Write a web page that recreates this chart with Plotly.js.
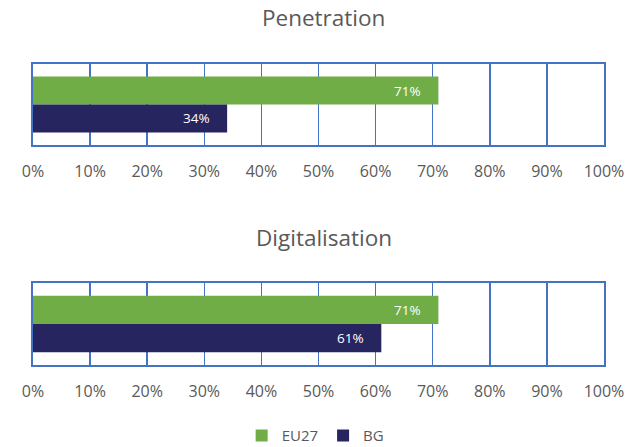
<!DOCTYPE html>
<html>
<head>
<meta charset="utf-8">
<script src="https://cdn.plot.ly/plotly-3.0.1.min.js"></script>
<style>
  html, body { margin: 0; padding: 0; background: #fff; }
  #chart { width: 643px; height: 447px; }
</style>
</head>
<body>
<div id="chart"></div>
<script>
// Shares per indicator, as fractions (0..1)
const panels = ['Penetration', 'Digitalisation'];
const seriesNames = ['EU27', 'BG'];
const eu27 = [0.71, 0.71];
const bg = [0.34, 0.61];
const tickVals = [0, 0.1, 0.2, 0.3, 0.4, 0.5, 0.6, 0.7, 0.8, 0.9, 1.0];
const tickText = ['0%', '10%', '20%', '30%', '40%', '50%', '60%', '70%', '80%', '90%', '100%'];

const colors = ['#70AD47', '#262560'];
const lineBlue = '#4472C4';
const textGrey = '#595959';
const fontFam = '"Open Sans", "Noto Sans", sans-serif';

const seriesVals = [eu27, bg];
const traces = [];
const annotations = [];
const bargap = 0.31;

panels.forEach((panel, p) => {
  const xa = p === 0 ? 'x' : 'x2';
  const ya = p === 0 ? 'y' : 'y2';
  seriesNames.forEach((name, s) => {
    const v = seriesVals[s][p];
    traces.push({
      type: 'bar',
      orientation: 'h',
      name: name,
      legendgroup: name,
      showlegend: p === 0,
      x: [v],
      y: [panel],
      xaxis: xa,
      yaxis: ya,
      marker: { color: colors[s] },
      hoverinfo: 'skip'
    });
    // value label inside the bar end, pulled a little to the left
    const half = (1 - bargap) / 4;
    annotations.push({
      text: Math.round(v * 100) + '%',
      xref: xa, yref: ya,
      x: v, y: s === 0 ? -half : half,
      xanchor: 'right', yanchor: 'middle',
      xshift: -15,
      showarrow: false,
      font: { size: 13.5, color: '#ffffff', family: fontFam }
    });
  });
});

function xAxis(anchor) {
  return {
    anchor: anchor,
    domain: [0, 1],
    range: [0, 1],
    tickvals: tickVals,
    ticktext: tickText,
    showgrid: true,
    gridcolor: lineBlue,
    gridwidth: 1.5,
    showline: true,
    mirror: true,
    linecolor: lineBlue,
    linewidth: 2,
    zeroline: false,
    ticks: '',
    ticklabelstandoff: 11,
    tickfont: { size: 16, color: textGrey, family: fontFam },
    fixedrange: true
  };
}
function yAxis(anchor, domain) {
  return {
    anchor: anchor,
    domain: domain,
    type: 'category',
    autorange: 'reversed',
    showticklabels: false,
    showgrid: false,
    showline: true,
    mirror: true,
    linecolor: lineBlue,
    linewidth: 2,
    ticks: '',
    fixedrange: true
  };
}

// Panel titles
const titleY = [0.96, 0.468];
panels.forEach((panel, p) => {
  annotations.push({
    text: panel, xref: 'paper', yref: 'paper', x: 0.509, y: titleY[p],
    showarrow: false, xanchor: 'center', yanchor: 'middle',
    font: { size: 22.5, color: textGrey, family: fontFam }
  });
});

const layout = {
  width: 643,
  height: 447,
  margin: { l: 33, r: 39, t: 0, b: 0, autoexpand: false },
  paper_bgcolor: '#ffffff',
  plot_bgcolor: '#ffffff',
  barmode: 'group',
  bargap: bargap,
  bargroupgap: 0,
  font: { family: fontFam, color: textGrey },
  xaxis: xAxis('y'),
  yaxis: yAxis('x', [0.6756, 0.8568]),
  xaxis2: xAxis('y2'),
  yaxis2: yAxis('x2', [0.1834, 0.3669]),
  annotations: annotations,
  showlegend: true,
  legend: {
    orientation: 'h',
    x: 0.495, xanchor: 'center',
    y: 0.025, yanchor: 'middle',
    traceorder: 'normal',
    itemwidth: 30,
    tracegroupgap: 0,
    font: { size: 15, color: textGrey, family: fontFam }
  }
};

Plotly.newPlot('chart', traces, layout, { staticPlot: true, displayModeBar: false });
</script>
</body>
</html>
